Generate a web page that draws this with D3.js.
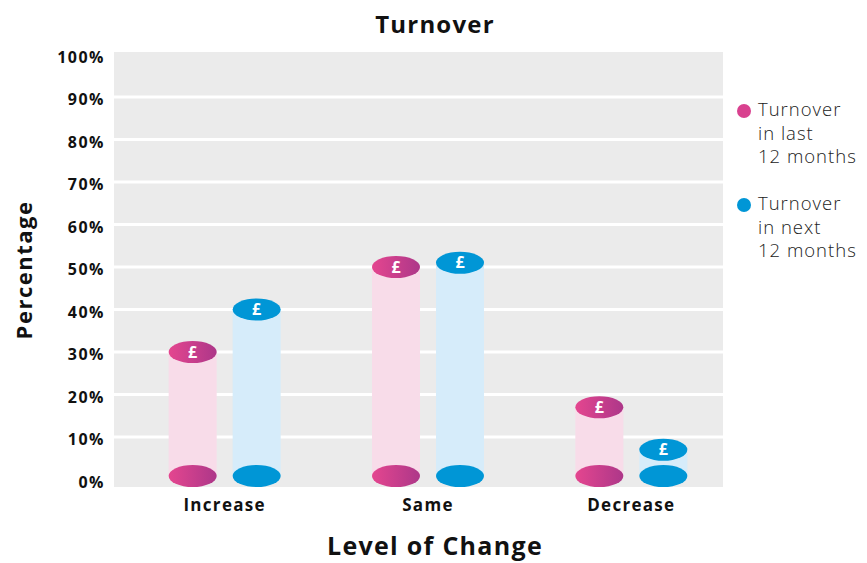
<!DOCTYPE html>
<html>
<head>
<meta charset="utf-8">
<script src="https://cdn.jsdelivr.net/npm/d3@7"></script>
<style>
  body { margin: 0; background: #fff; }
  svg text { font-family: "Open Sans", sans-serif; fill: #111; }
</style>
</head>
<body>
<svg id="chart" width="867" height="563"></svg>
<script>
"use strict";

var categories = ['Increase', 'Same', 'Decrease'];
var lastYear = [30, 50, 17];
var nextYear = [40, 51, 7];
var yTicks = [0, 10, 20, 30, 40, 50, 60, 70, 80, 90, 100];
var seriesNames = ['Turnover in last 12 months', 'Turnover in next 12 months'];

var svg = d3.select('#chart');

var plot = { left: 114, right: 723, top: 52, bottom: 487 };

var xscale = d3.scaleBand().domain(categories).range([122, 732]);
var yscale = d3.scaleLinear().domain([0, 100]).range([479.5, 54.5]);

var defs = svg.append('defs');
var grad = defs.append('linearGradient').attr('id', 'pinkgrad');
grad.append('stop').attr('offset', '0%').attr('stop-color', '#e4468f');
grad.append('stop').attr('offset', '100%').attr('stop-color', '#ad3789');

// background + gridlines
svg.append('rect')
  .attr('x', plot.left).attr('y', plot.top)
  .attr('width', plot.right - plot.left).attr('height', plot.bottom - plot.top)
  .attr('fill', '#ebebeb');

svg.append('g').selectAll('line')
  .data(yTicks.filter(d => d > 0 && d < 100))
  .join('line')
  .attr('x1', plot.left).attr('x2', plot.right)
  .attr('y1', d => yscale(d)).attr('y2', d => yscale(d))
  .attr('stroke', '#fff').attr('stroke-width', 3);

// y tick labels
svg.append('g').selectAll('text')
  .data(yTicks)
  .join('text')
  .attr('x', 105)
  .attr('y', d => yscale(d) + 8)
  .attr('text-anchor', 'end')
  .style('font-size', '16px').style('font-weight', 700)
  .style('letter-spacing', '1.5px')
  .text(d => d + '%');

// bars
var series = [
  { values: lastYear, body: '#f8dce9', coin: 'url(#pinkgrad)', dx: -31 },
  { values: nextYear, body: '#d6ecfa', coin: '#0096d6', dx: 33 }
];
var rx = 24, ry = 11;
var base = yscale(0) - 3.5;

series.forEach(function (s) {
  var g = svg.append('g');
  var items = categories.map((c, i) => ({ cat: c, v: s.values[i] }));
  var cx = d => xscale(d.cat) + xscale.bandwidth() / 2 + s.dx;

  g.selectAll('rect.body').data(items).join('rect')
    .attr('class', 'body')
    .attr('x', d => cx(d) - rx)
    .attr('y', d => yscale(d.v))
    .attr('width', rx * 2)
    .attr('height', d => base - yscale(d.v))
    .attr('fill', s.body);

  g.selectAll('ellipse.base').data(items).join('ellipse')
    .attr('class', 'base')
    .attr('cx', cx).attr('cy', base)
    .attr('rx', rx).attr('ry', ry)
    .attr('fill', s.coin);

  g.selectAll('ellipse.top').data(items).join('ellipse')
    .attr('class', 'top')
    .attr('cx', cx).attr('cy', d => yscale(d.v))
    .attr('rx', rx).attr('ry', ry)
    .attr('fill', s.coin);

  g.selectAll('text').data(items).join('text')
    .attr('x', cx).attr('y', d => yscale(d.v) + 5.5)
    .attr('text-anchor', 'middle')
    .style('fill', '#fff')
    .style('font-size', '16px').style('font-weight', 700)
    .text('£');
});

// x labels
svg.append('g').selectAll('text')
  .data(categories)
  .join('text')
  .attr('x', d => xscale(d) + xscale.bandwidth() / 2 + 1)
  .attr('y', 511)
  .attr('text-anchor', 'middle')
  .style('font-size', '17px').style('font-weight', 700)
  .style('letter-spacing', '1.3px')
  .text(d => d);

// titles
svg.append('text')
  .attr('x', 435).attr('y', 33)
  .attr('text-anchor', 'middle')
  .style('font-size', '24px').style('font-weight', 700)
  .style('letter-spacing', '1.2px')
  .text('Turnover');

svg.append('text')
  .attr('x', 435).attr('y', 555)
  .attr('text-anchor', 'middle')
  .style('font-size', '25px').style('font-weight', 700)
  .style('letter-spacing', '1.3px')
  .text('Level of Change');

svg.append('text')
  .attr('transform', 'translate(32,270) rotate(-90)')
  .attr('text-anchor', 'middle')
  .style('font-size', '22px').style('font-weight', 700)
  .style('letter-spacing', '1.5px')
  .text('Percentage');

// legend
var legendColors = ['#d9418f', '#0096d6'];
var legendLines = [['Turnover', 'in last', '12 months'], ['Turnover', 'in next', '12 months']];
var lg = svg.append('g');
seriesNames.forEach(function (name, i) {
  var y0 = 116 + i * 94;
  lg.append('circle')
    .attr('cx', 744).attr('cy', y0 - 5).attr('r', 7)
    .attr('fill', legendColors[i]);
  lg.append('text')
    .attr('x', 758).attr('y', y0)
    .style('font-size', '18.5px').style('font-weight', 300).style('fill', '#222')
    .style('letter-spacing', '1px')
    .selectAll('tspan').data(legendLines[i]).join('tspan')
    .attr('x', 758).attr('dy', (d, j) => j === 0 ? 0 : 23.5)
    .text(d => d);
});
</script>
</body>
</html>
